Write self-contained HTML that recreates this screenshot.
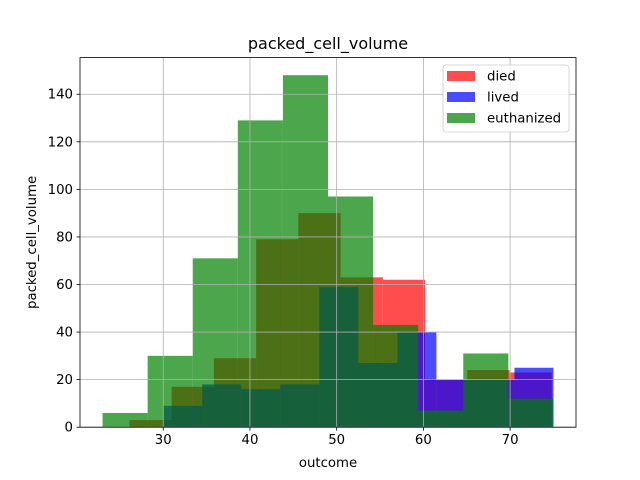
<!DOCTYPE html>
<html><head><meta charset="utf-8"><style>
body{margin:0;background:#fff}
svg{display:block;font-family:"DejaVu Sans","Liberation Sans",sans-serif}
</style></head><body>
<svg id="chart" width="640" height="480"></svg>
<script>
const seriesNames = ["died", "lived", "euthanized"];
const seriesColors = ["#ff0000", "#0000ff", "#008000"];
const diedRange = [26.1, 74.8];
const diedCounts = [3, 17, 29, 79, 90, 63, 62, 20, 24, 23];
const livedRange = [30, 75];
const livedCounts = [9, 18, 16, 18, 59, 27, 40, 20, 20, 25];
const euthRange = [23, 75];
const euthCounts = [6, 30, 71, 129, 148, 97, 43, 7, 31, 12];
const xTicks = [30, 40, 50, 60, 70];
const yTicks = [0, 20, 40, 60, 80, 100, 120, 140];

const NS = "http://www.w3.org/2000/svg";
const svg = document.getElementById("chart");
const L = 80, R = 576, T = 57.6, B = 427.2;
const xMin = 20.4, xMax = 77.6, yMax = 155.4;
const xs = v => L + (v - xMin) / (xMax - xMin) * (R - L);
const ys = v => B - v / yMax * (B - T);
function mk(tag, attrs, parent) {
  const e = document.createElementNS(NS, tag);
  for (const k in attrs) e.setAttribute(k, attrs[k]);
  (parent || svg).appendChild(e);
  return e;
}
const allRanges = [diedRange, livedRange, euthRange];
const allCounts = [diedCounts, livedCounts, euthCounts];
allCounts.forEach((counts, s) => {
  const g = mk("g", {});
  
  
  const [a, b] = allRanges[s];
  const w = (b - a) / counts.length;
  counts.forEach((c, i) => {
    const x0 = xs(a + i * w), x1 = xs(a + (i + 1) * w);
    const r = mk("rect", {x: x0, y: ys(c), width: x1 - x0, height: ys(0) - ys(c), fill: seriesColors[s], "fill-opacity": 0.7}, g);
    
    
  });
});
xTicks.forEach(t => {
  const l = mk("line", {x1: xs(t), x2: xs(t), y1: T, y2: B, stroke: "#b0b0b0", "stroke-width": 0.8});
  
  
  mk("line", {x1: xs(t), x2: xs(t), y1: B, y2: B + 3.5, stroke: "#000", "stroke-width": 0.8});
  const tx = mk("text", {x: xs(t), y: B + 17, "text-anchor": "middle", "font-size": 13.3});
  tx.textContent = t;
  
  
});
yTicks.forEach(t => {
  const l = mk("line", {x1: L, x2: R, y1: ys(t), y2: ys(t), stroke: "#b0b0b0", "stroke-width": 0.8});
  
  
  mk("line", {x1: L - 3.5, x2: L, y1: ys(t), y2: ys(t), stroke: "#000", "stroke-width": 0.8});
  const tx = mk("text", {x: L - 7, y: ys(t) + 4.5, "text-anchor": "end", "font-size": 13.3});
  tx.textContent = t;
  
  
});
const frame = mk("rect", {x: L, y: T, width: R - L, height: B - T, fill: "none", stroke: "#000", "stroke-width": 0.8});


const title = mk("text", {x: (L + R) / 2, y: 49, "text-anchor": "middle", "font-size": 16});
title.textContent = "packed_cell_volume";


const xl = mk("text", {x: (L + R) / 2, y: 467, "text-anchor": "middle", "font-size": 13.3});
xl.textContent = "outcome";


const yl = mk("text", {x: 0, y: 0, "text-anchor": "middle", "font-size": 13.3, transform: "translate(36," + (T + B) / 2 + ") rotate(-90)"});
yl.textContent = "packed_cell_volume";


const lg = mk("g", {});


mk("rect", {x: 443, y: 65, width: 126, height: 67, rx: 3, fill: "#fff", "fill-opacity": 0.8, stroke: "#cccccc", "stroke-width": 0.8}, lg);
seriesNames.forEach((n, i) => {
  const y = 71 + i * 21;
  const p = mk("rect", {x: 447, y: y, width: 28, height: 10, fill: seriesColors[i], "fill-opacity": 0.7}, lg);
  
  
  const t = mk("text", {x: 487, y: y + 9.5, "font-size": 13.3}, lg);
  t.textContent = n;
  
  
});
</script>
</body></html>
